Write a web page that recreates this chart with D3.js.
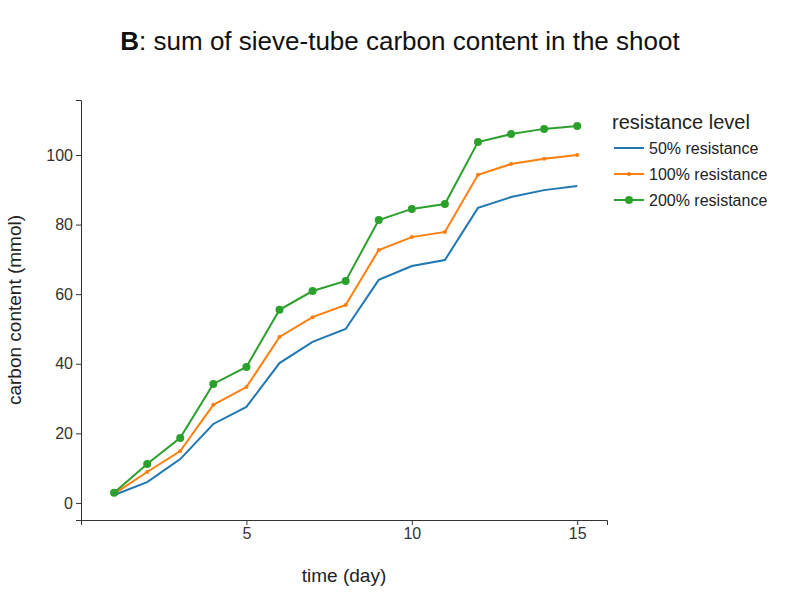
<!DOCTYPE html>
<html><head><meta charset="utf-8">
<script src="https://cdn.jsdelivr.net/npm/d3@7"></script>
<style>body{margin:0;background:#fff;font-family:"Liberation Sans",Arial,sans-serif;}</style>
</head><body>
<svg id="chart" width="800" height="600" font-family="Liberation Sans, Arial, sans-serif"></svg>
<script>
// data
var days = d3.range(1, 16);
var seriesNames = ["50% resistance", "100% resistance", "200% resistance"];
var seriesColors = ["#1f77b4", "#ff7f0e", "#2ca02c"];
var markerRadius = [0, 2, 4];
var res50 = [2.3, 6, 12.6, 22.7, 27.6, 40.2, 46.3, 50, 64.1, 68.1, 69.8, 84.8, 87.9, 89.9, 91.1];
var res100 = [2.6, 8.9, 14.9, 28.2, 33.3, 47.7, 53.4, 56.9, 72.7, 76.4, 77.9, 94.3, 97.4, 98.9, 100];
var res200 = [2.9, 11.2, 18.7, 34.2, 39.1, 55.5, 60.9, 63.8, 81.3, 84.5, 85.9, 103.7, 106, 107.5, 108.3];
var xTicks = [5, 10, 15];
var yTicks = [0, 20, 40, 60, 80, 100];

var allSeries = [res50, res100, res200];
var svg = d3.select("#chart");
var x = d3.scaleLinear().domain([0, 15.9]).range([81, 607]);
var y = d3.scaleLinear().domain([-4.9, 115.8]).range([520, 100]);

// axes
var gx = svg.append("g").attr("transform", "translate(0,520)")
   .call(d3.axisBottom(x).tickValues(xTicks).tickSizeOuter(0).tickSize(5));
var gy = svg.append("g").attr("transform", "translate(81,0)")
   .call(d3.axisLeft(y).tickValues(yTicks).tickSizeOuter(0).tickSize(5));
[gx, gy].forEach(function(g) {
   g.selectAll("text").attr("font-size", 16).attr("fill", "#333").attr("font-family", "Liberation Sans, Arial, sans-serif");
   g.selectAll("line,path").attr("stroke", "#333");
});

// lines and markers
var line = d3.line().x(function(d, i) { return x(days[i]); }).y(function(d) { return y(d); });
allSeries.forEach(function(s, k) {
   svg.append("path").datum(s).attr("d", line).attr("fill", "none")
      .attr("stroke", seriesColors[k]).attr("stroke-width", 2);
   if (markerRadius[k] > 0) {
      svg.selectAll(null).data(s).enter().append("circle")
         .attr("cx", function(d, i) { return x(days[i]); })
         .attr("cy", function(d) { return y(d); })
         .attr("r", markerRadius[k]).attr("fill", seriesColors[k]);
   }
});

// titles
var title = svg.append("text").attr("x", 400).attr("y", 50).attr("text-anchor", "middle")
   .attr("font-size", 26).attr("fill", "#111");
title.append("tspan").attr("font-weight", "bold").text("B");
title.append("tspan").text(": sum of sieve-tube carbon content in the shoot");
svg.append("text").attr("x", 344).attr("y", 582).attr("text-anchor", "middle")
   .attr("font-size", 19).attr("fill", "#222").text("time (day)");
svg.append("text").attr("transform", "translate(21,310) rotate(-90)").attr("text-anchor", "middle")
   .attr("font-size", 19).attr("fill", "#222").text("carbon content (mmol)");

// legend
svg.append("text").attr("x", 612).attr("y", 129).attr("font-size", 20).attr("fill", "#222")
   .text("resistance level");
seriesNames.forEach(function(n, k) {
   var ly = 148 + k * 26;
   svg.append("line").attr("x1", 614).attr("x2", 644).attr("y1", ly).attr("y2", ly)
      .attr("stroke", seriesColors[k]).attr("stroke-width", 2);
   if (markerRadius[k] > 0)
      svg.append("circle").attr("cx", 629).attr("cy", ly).attr("r", markerRadius[k]).attr("fill", seriesColors[k]);
   svg.append("text").attr("x", 649).attr("y", ly + 6).attr("font-size", 16).attr("fill", "#222").text(n);
});
</script>
</body></html>
